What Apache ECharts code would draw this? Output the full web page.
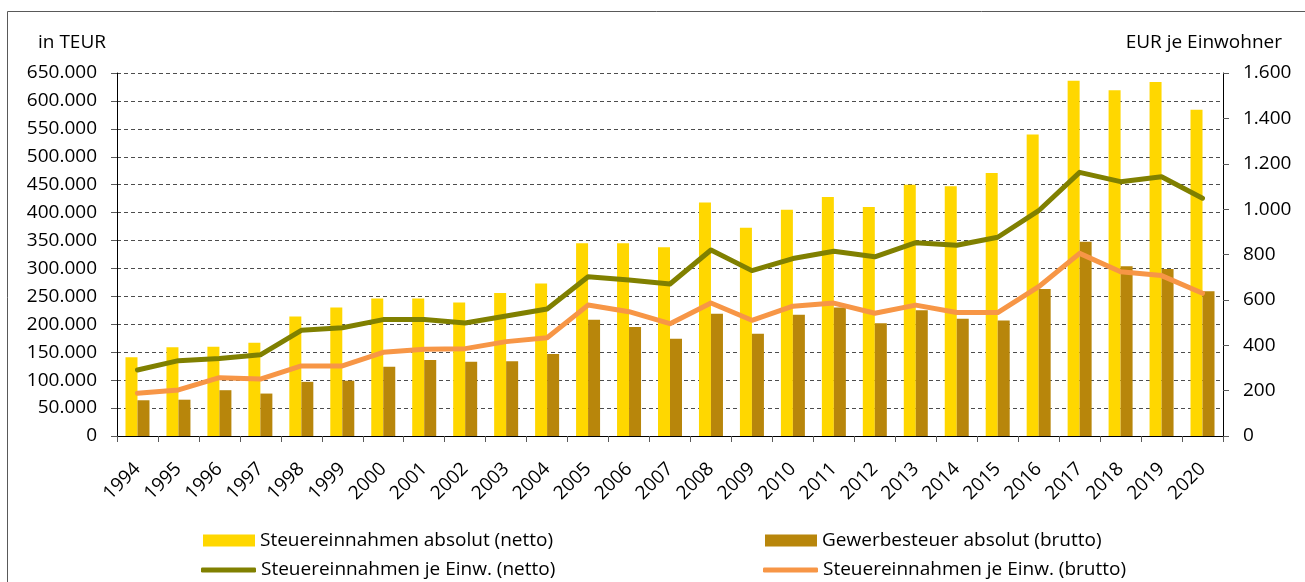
<!DOCTYPE html>
<html>
<head>
<meta charset="utf-8">
<script src="https://cdn.jsdelivr.net/npm/echarts@6/dist/echarts.min.js"></script>
<style>
html,body{margin:0;padding:0;background:#fff;}
#chart{width:1305px;height:582px;}
</style>
</head>
<body>
<div id="chart"></div>
<script>
const years = ['1994','1995','1996','1997','1998','1999','2000','2001','2002','2003','2004','2005','2006','2007','2008','2009','2010','2011','2012','2013','2014','2015','2016','2017','2018','2019','2020'];
const steuerNettoAbs = [141000,159000,160000,167000,214000,230000,246000,246000,239000,256000,273000,345000,345000,338000,418000,373000,405000,428000,410000,450000,447000,471000,540000,636000,619000,634000,584000];
const gewerbeBruttoAbs = [64000,65000,82000,76000,97000,99000,124000,136000,133000,134000,147000,208000,195000,174000,219000,183000,217000,230000,202000,225000,210000,207000,263000,348000,304000,299000,259000];
const steuerNettoEinw = [291,332,342,358,466,477,513,513,498,529,560,702,688,670,820,729,782,814,790,852,841,876,993,1162,1121,1143,1048];
const steuerBruttoEinw = [188,203,257,251,309,309,369,382,385,416,433,577,548,495,586,510,572,586,541,577,544,544,658,805,724,707,629];
const leftTicks = {min:0, max:650000, interval:50000};
const rightTicks = {min:0, max:1600, interval:200};
const names = ['Steuereinnahmen absolut (netto)','Gewerbesteuer absolut (brutto)','Steuereinnahmen je Einw. (netto)','Steuereinnahmen je Einw. (brutto)'];

const FONT = 'Open Sans';
const fmt = v => String(v).replace(/\B(?=(\d{3})+(?!\d))/g, '.');
const chart = echarts.init(document.getElementById('chart'), null, {renderer:'canvas'});
const legendText = {fontFamily: FONT, fontSize: 19, color: '#000'};
function leg(name, left, top, isLine){
  return {data:[name], left:left, top:top, itemWidth:isLine?55:52, itemHeight:isLine?5:12,
          icon:isLine?'roundRect':'rect', itemGap:0, textStyle:legendText, selectedMode:false, padding:0};
}
chart.setOption({
  animation:false,
  textStyle:{fontFamily:FONT},
  title:[
    {text:'in TEUR', left:33, top:28, textStyle:{fontFamily:FONT, fontSize:19, fontWeight:'normal', color:'#000'}},
    {text:'EUR je Einwohner', right:18, top:28, textStyle:{fontFamily:FONT, fontSize:19, fontWeight:'normal', color:'#000'}}
  ],
  graphic:[{type:'rect', shape:{x:7.5, y:11.5, width:1310, height:580}, style:{fill:'none', stroke:'#595959', lineWidth:1}, silent:true}],
  grid:{left:117, right:82, top:73, bottom:146},
  legend:[
    leg(names[0], 203, 531, false),
    leg(names[1], 765, 531, false),
    leg(names[2], 201, 560.5, true),
    leg(names[3], 763, 560.5, true)
  ],
  xAxis:{
    type:'category', data:years,
    axisLine:{lineStyle:{color:'#000', width:1}},
    axisTick:{show:true, length:6, lineStyle:{color:'#595959'}},
    axisLabel:{rotate:45, fontSize:19, color:'#000', margin:30, fontFamily:FONT}
  },
  yAxis:[
    {type:'value', min:leftTicks.min, max:leftTicks.max, interval:leftTicks.interval,
     axisLine:{show:true, lineStyle:{color:'#000'}},
     axisTick:{show:true, length:6, lineStyle:{color:'#595959'}},
     axisLabel:{fontSize:19, color:'#000', margin:20, formatter:fmt, fontFamily:FONT},
     splitLine:{show:true, lineStyle:{color:'#4d4d4d', type:[4,3], width:1}}},
    {type:'value', min:rightTicks.min, max:rightTicks.max, interval:rightTicks.interval,
     axisLine:{show:true, lineStyle:{color:'#000'}},
     axisTick:{show:true, length:6, lineStyle:{color:'#595959'}},
     axisLabel:{fontSize:19, color:'#000', margin:20, formatter:fmt, fontFamily:FONT},
     splitLine:{show:false}}
  ],
  series:[
    {name:names[0], type:'bar', data:steuerNettoAbs, barWidth:12, barGap:'0%', itemStyle:{color:'#FFD700'}, yAxisIndex:0},
    {name:names[1], type:'bar', data:gewerbeBruttoAbs, barWidth:12, barGap:'0%', itemStyle:{color:'#B8860B'}, yAxisIndex:0},
    {name:names[2], type:'line', data:steuerNettoEinw, yAxisIndex:1, symbol:'none', lineStyle:{color:'#808000', width:5, cap:'round', join:'round'}, itemStyle:{color:'#808000'}},
    {name:names[3], type:'line', data:steuerBruttoEinw, yAxisIndex:1, symbol:'none', lineStyle:{color:'#F79646', width:5, cap:'round', join:'round'}, itemStyle:{color:'#F79646'}}
  ]
});
</script>
</body>
</html>
